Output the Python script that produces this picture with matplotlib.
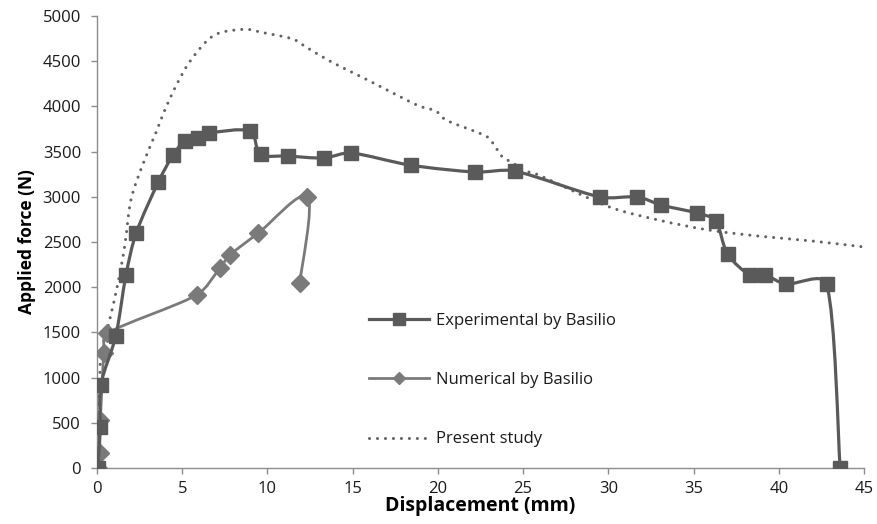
import numpy as np
import matplotlib
matplotlib.use("Agg")
import matplotlib.pyplot as plt
from matplotlib.path import Path
from matplotlib.patches import PathPatch
from matplotlib.lines import Line2D

plt.rcParams['font.family'] = ['Open Sans', 'DejaVu Sans']

# ---- data ----
exp_x = [0.05, 0.18, 0.23, 1.1, 1.7, 2.3, 3.6, 4.45, 5.15, 5.9, 6.6, 8.95, 9.6,
         11.2, 13.3, 14.9, 18.4, 22.2, 24.5, 29.5, 31.7, 33.1, 35.2, 36.3, 37.0,
         38.3, 39.2, 40.4, 42.8, 43.6]
exp_y = [0, 450, 920, 1460, 2135, 2600, 3164, 3460, 3617, 3650, 3705, 3727, 3473,
         3451, 3430, 3485, 3350, 3274, 3285, 2998, 2998, 2909, 2820, 2732, 2367,
         2135, 2135, 2035, 2035, 0]

num_x = [0.05, 0.15, 0.2, 0.4, 0.6, 5.85, 7.2, 7.8, 9.45, 12.35, 11.9]
num_y = [0, 170, 530, 1270, 1490, 1914, 2209, 2356, 2596, 3001, 2050]

pre_x = [0.0, 0.16, 0.25, 0.74, 1.23, 1.62, 1.99, 2.63, 3.45, 3.98, 4.66, 5.44,
         6.5, 7.3, 8.76, 9.64, 11.49, 12.17, 13.73, 15.68, 17.32, 18.9, 19.88,
         20.46, 22.22, 23.0, 23.77, 24.27, 25.14, 25.92, 30.02, 32.94, 35.87,
         38.79, 42.0, 45.0]
pre_y = [0, 973, 1272, 1637, 2046, 2448, 2965, 3330, 3706, 3960, 4237, 4494,
         4735, 4820, 4853, 4820, 4746, 4668, 4494, 4311, 4152, 4004, 3949,
         3850, 3720, 3647, 3444, 3388, 3289, 3241, 2891, 2743, 2633, 2566,
         2510, 2445]

labels = ["Experimental by Basilio", "Numerical by Basilio", "Present study"]
x_ticks = [0, 5, 10, 15, 20, 25, 30, 35, 40, 45]
y_ticks = [0, 500, 1000, 1500, 2000, 2500, 3000, 3500, 4000, 4500, 5000]

W, H = 877, 524
fig = plt.figure(figsize=(W / 100, H / 100), dpi=100)
ax = fig.add_axes([97 / W, 1 - 468 / H, (864 - 97) / W, (468 - 16) / H])
ax.set_xlim(0, 45)
ax.set_ylim(0, 5000)


def smooth_path(xs, ys, limit=0.33):
    """Excel-like smoothed line: cubic Bezier segments (Catmull-Rom 1/6
    handles), each handle limited to a fraction of its segment on screen."""
    P = np.column_stack([xs, ys]).astype(float)
    D = ax.transData.transform(P)
    n = len(P)
    verts = [P[0]]
    codes = [Path.MOVETO]
    for i in range(n - 1):
        i0 = max(i - 1, 0)
        i3 = min(i + 2, n - 1)
        seg = np.hypot(*(D[i + 1] - D[i]))
        h1 = (P[i + 1] - P[i0]) / 6.0
        h2 = (P[i3] - P[i]) / 6.0
        l1 = np.hypot(*((D[i + 1] - D[i0]) / 6.0))
        l2 = np.hypot(*((D[i3] - D[i]) / 6.0))
        if l1 > limit * seg and l1 > 0:
            h1 = h1 * (limit * seg / l1)
        if l2 > limit * seg and l2 > 0:
            h2 = h2 * (limit * seg / l2)
        verts += [P[i] + h1, P[i + 1] - h2, P[i + 1]]
        codes += [Path.CURVE4] * 3
    return Path(verts, codes)


c_exp = '#5a5a5a'
c_num = '#7a7a7a'
c_pre = '#636363'
dots = (0, (0.01, 2.6))

ax.add_patch(PathPatch(smooth_path(pre_x, pre_y), fill=False, edgecolor=c_pre,
                       linewidth=2.2, linestyle=dots,
                       capstyle='round', zorder=2))
ax.add_patch(PathPatch(smooth_path(num_x, num_y), fill=False, edgecolor=c_num,
                       linewidth=2.0, zorder=3))
ax.plot(num_x, num_y, linestyle='none', marker='D', markersize=9.5,
        color=c_num, zorder=4)
ax.add_patch(PathPatch(smooth_path(exp_x, exp_y), fill=False, edgecolor=c_exp,
                       linewidth=2.3, zorder=5))
ax.plot(exp_x, exp_y, linestyle='none', marker='s', markersize=10.5,
        color=c_exp, zorder=6)

ax.set_xticks(x_ticks)
ax.set_yticks(y_ticks)
ax.set_xticklabels([str(v) for v in x_ticks])
ax.set_yticklabels([str(v) for v in y_ticks])

for s in ['top', 'right']:
    ax.spines[s].set_visible(False)
for s in ['left', 'bottom']:
    ax.spines[s].set_color('#8c8c8c')
    ax.spines[s].set_linewidth(1.0)
ax.tick_params(axis='both', direction='out', length=4.5, width=1.0,
               color='#8c8c8c', labelsize=12, labelcolor='#1a1a1a')
ax.tick_params(axis='y', pad=7)
ax.tick_params(axis='x', pad=5)
ax.set_xlabel("Displacement (mm)", fontsize=14, fontweight='bold',
              color='#000000', labelpad=-1)
ax.set_ylabel("Applied force (N)", fontsize=12.5, fontweight='bold',
              color='#000000', labelpad=5)

handles = [
    Line2D([], [], color=c_exp, linewidth=2.3, marker='s', markersize=8.5),
    Line2D([], [], color=c_num, linewidth=2.0, marker='D', markersize=6),
    Line2D([], [], color=c_pre, linewidth=2.2, linestyle=dots,
           dash_capstyle='round'),
]
leg = fig.legend(handles, labels, loc='upper left',
                 bbox_to_anchor=(362 / W, 1 - 306 / H), frameon=False,
                 fontsize=12, labelspacing=2.6, handlelength=3.6,
                 handletextpad=0.45, borderaxespad=0)
for t in leg.get_texts():
    t.set_color('#1a1a1a')

fig.savefig("out.png", dpi=100)
